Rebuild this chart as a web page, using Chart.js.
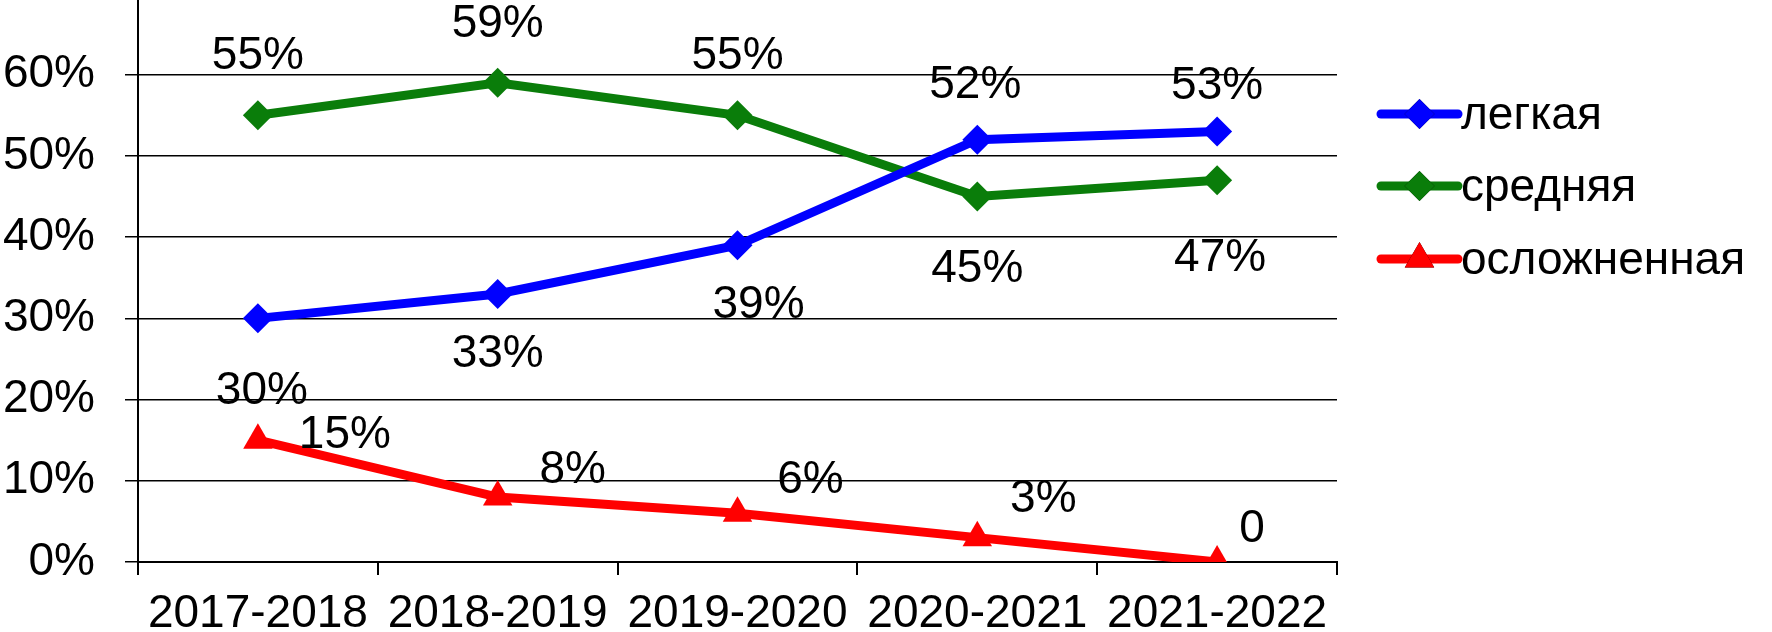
<!DOCTYPE html>
<html>
<head>
<meta charset="utf-8">
<script src="https://cdn.jsdelivr.net/npm/chart.js@4"></script>
<style>
  html, body { margin: 0; padding: 0; background: #fff; }
  #wrap { width: 1772px; height: 632px; }
</style>
</head>
<body>
<div id="wrap"><canvas id="myChart" width="1772" height="632"></canvas></div>
<script>
// data
const years = ['2017-2018', '2018-2019', '2019-2020', '2020-2021', '2021-2022'];
const seriesNames = ['легкая', 'средняя', 'осложненная'];
const easy = [30, 33, 39, 52, 53];
const medium = [55, 59, 55, 45, 47];
const complicated = [15, 8, 6, 3, 0];

// where each value label sits relative to its point (px)
const labelOffsets = [
    [[4, 73], [0, 60], [21, 60], [-2, -54], [0, -45]],
    [[0, -59], [0, -59], [0, -59], [0, 73], [3, 78]],
    [[87, -5], [75, -27], [73, -33], [66, -38], [35, -33]]
];

const FONT = '"Liberation Sans", Arial, sans-serif';
const FONT_SIZE = 46;

function labelText(v) {
    return v === 0 ? '0' : v + '%';
}

// value labels next to the points
const valueLabels = {
    id: 'valueLabels',
    afterDatasetsDraw(chart) {
        let ctx = chart.ctx;
        ctx.save();
        ctx.font = FONT_SIZE + 'px ' + FONT;
        ctx.fillStyle = '#000';
        ctx.textAlign = 'center';
        ctx.textBaseline = 'middle';
        chart.data.datasets.forEach((ds, i) => {
            chart.getDatasetMeta(i).data.forEach((pt, j) => {
                let off = labelOffsets[i][j];
                ctx.fillText(labelText(ds.data[j]), pt.x + off[0], pt.y + off[1]);
            });
        });
        ctx.restore();
    }
};

// legend on the right: line with marker, then name
const sideLegend = {
    id: 'sideLegend',
    afterDraw(chart) {
        let ctx = chart.ctx;
        let x0 = 1381, x1 = 1458, ys = [114, 186, 259];
        ctx.save();
        chart.data.datasets.forEach((ds, i) => {
            let y = ys[i];
            ctx.strokeStyle = ds.borderColor;
            ctx.lineWidth = 9;
            ctx.lineCap = 'round';
            ctx.beginPath();
            ctx.moveTo(x0, y);
            ctx.lineTo(x1, y);
            ctx.stroke();
            Chart.helpers.drawPoint(ctx, {
                pointStyle: ds.pointStyle,
                radius: ds.pointRadius,
                borderWidth: 0
            }, (x0 + x1) / 2, y);
            ctx.fillStyle = ds.pointBackgroundColor;
            ctx.fill();
            ctx.fillStyle = '#000';
            ctx.font = FONT_SIZE + 'px ' + FONT;
            ctx.textAlign = 'left';
            ctx.textBaseline = 'middle';
            ctx.fillText(ds.label, x1 + 3, y + 2);
        });
        ctx.restore();
    }
};

function makeSeries(label, data, color, style, radius) {
    return {
        label: label,
        data: data,
        borderColor: color,
        backgroundColor: color,
        pointBackgroundColor: color,
        pointBorderColor: color,
        pointBorderWidth: 0,
        pointStyle: style,
        pointRadius: radius,
        borderWidth: 9,
        tension: 0
    };
}

let ctx = document.getElementById('myChart').getContext('2d');
new Chart(ctx, {
    type: 'line',
    data: {
        labels: years,
        datasets: [
            makeSeries(seriesNames[0], easy, '#0000ff', 'rectRot', 15),
            makeSeries(seriesNames[1], medium, '#0a7d0a', 'rectRot', 15),
            makeSeries(seriesNames[2], complicated, '#ff0000', 'triangle', 17)
        ]
    },
    options: {
        responsive: false,
        animation: false,
        layout: {
            autoPadding: false,
            padding: { top: 0, right: 435, bottom: 0, left: 0 }
        },
        plugins: {
            legend: { display: false },
            tooltip: { enabled: false }
        },
        scales: {
            x: {
                offset: true,
                grid: {
                    offset: true,
                    drawOnChartArea: false,
                    color: '#000',
                    lineWidth: 2,
                    tickLength: 13
                },
                border: { color: '#000', width: 2 },
                ticks: {
                    color: '#000',
                    font: { family: FONT, size: FONT_SIZE },
                    padding: 12,
                    maxRotation: 0,
                    autoSkip: false
                },
                afterFit(scale) { scale.height = 70; }
            },
            y: {
                min: 0,
                max: 69.2,
                grid: {
                    color: '#000',
                    lineWidth: 1.5,
                    tickLength: 13
                },
                border: { color: '#000', width: 2 },
                ticks: {
                    stepSize: 10,
                    includeBounds: false,
                    color: '#000',
                    font: { family: FONT, size: FONT_SIZE },
                    padding: 30,
                    callback: v => v + '%'
                },
                afterFit(scale) {
                    scale.width = 138;
                    scale.paddingTop = 0;
                    scale.paddingBottom = 0;
                }
            }
        }
    },
    plugins: [valueLabels, sideLegend]
});
</script>
</body>
</html>
